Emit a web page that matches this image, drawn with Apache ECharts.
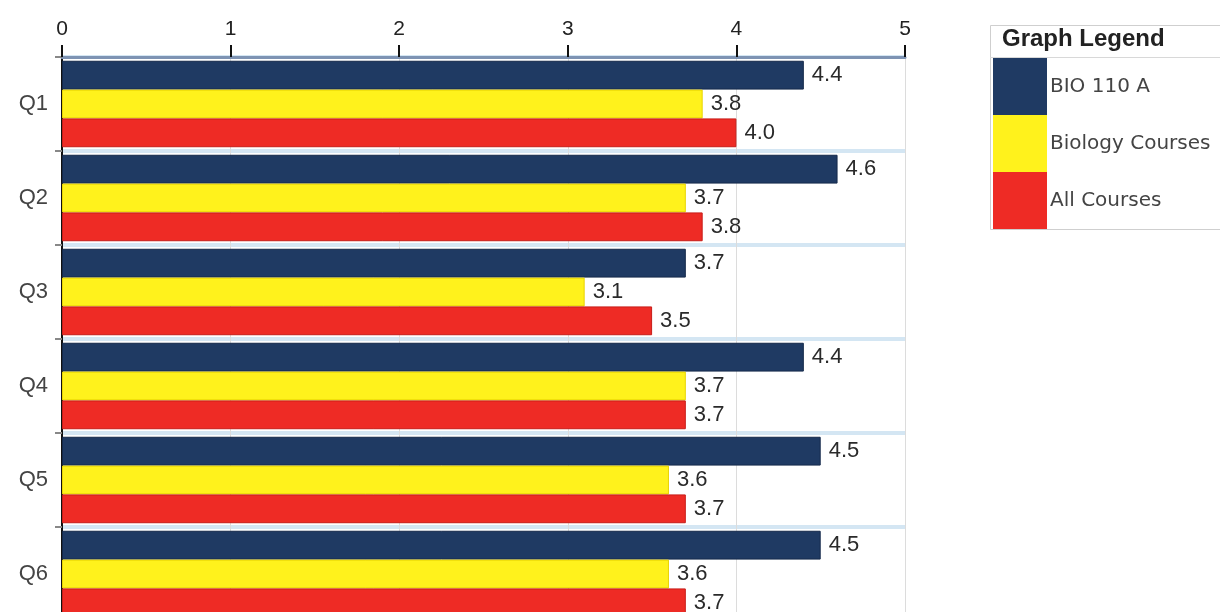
<!DOCTYPE html>
<html>
<head>
<meta charset="utf-8">
<script src="https://cdn.jsdelivr.net/npm/echarts@6/dist/echarts.min.js"></script>
<style>html,body{margin:0;padding:0;background:#fff;overflow:hidden;}#c{width:1220px;height:622px;}</style>
</head>
<body>
<div id="c"></div>
<script>
var categories = ['Q1', 'Q2', 'Q3', 'Q4', 'Q5', 'Q6'];
var seriesNames = ['BIO 110 A', 'Biology Courses', 'All Courses'];
var bio110 = [4.4, 4.6, 3.7, 4.4, 4.5, 4.5];
var biologyCourses = [3.8, 3.7, 3.1, 3.7, 3.6, 3.6];
var allCourses = [4.0, 3.8, 3.5, 3.7, 3.7, 3.7];
var xTicks = [0, 1, 2, 3, 4, 5];

var colors = ['#1f3a63', '#fff21c', '#ee2b25'];
var borders = ['#15294a', '#e8d400', '#c81c18'];
var values = [bio110, biologyCourses, allCourses];

var chart = echarts.init(document.getElementById('c'));
var series = seriesNames.map(function (n, i) {
  return {
    name: n,
    type: 'bar',
    data: values[i],
    barGap: 0,
    barCategoryGap: '8%',
    itemStyle: { color: colors[i], borderColor: borders[i], borderWidth: 1 },
    label: {
      show: true,
      position: 'right',
      distance: 8,
      formatter: function (p) { return p.value.toFixed(1); },
      fontFamily: 'Liberation Sans, Arial, sans-serif',
      fontSize: 22,
      color: '#2a2a2a'
    }
  };
});

chart.setOption({
  animation: false,
  backgroundColor: '#fff',
  grid: { left: 62, top: 57, right: 315, bottom: 1, containLabel: false },
  xAxis: {
    type: 'value',
    position: 'top',
    min: 0, max: 5, interval: 1,
    axisLine: { show: true, lineStyle: { color: '#7e93b3', width: 3 } },
    axisTick: { show: true, length: 12, lineStyle: { color: '#111', width: 2 } },
    axisLabel: {
      margin: 17,
      fontFamily: 'Liberation Sans, Arial, sans-serif',
      fontSize: 21, color: '#222',
      formatter: function (v) { return xTicks.indexOf(v) >= 0 ? String(v) : ''; }
    },
    splitLine: { show: true, lineStyle: { color: '#dcdcdc', width: 1 } }
  },
  yAxis: {
    type: 'category',
    inverse: true,
    data: categories,
    axisLine: { show: true, lineStyle: { color: '#111', width: 2 } },
    axisTick: { show: true, length: 7, lineStyle: { color: '#888', width: 2 } },
    axisLabel: {
      margin: 14,
      fontFamily: 'Liberation Sans, Arial, sans-serif',
      fontSize: 22, color: '#444'
    },
    splitLine: { show: true, lineStyle: { color: '#d4e6f3', width: 4 } }
  },
  legend: {
    orient: 'vertical',
    left: 993, top: 58,
    itemWidth: 54, itemHeight: 57, itemGap: 0,
    icon: 'rect',
    selectedMode: false,
    padding: 0,
    data: seriesNames,
    itemStyle: { borderWidth: 0 },
    textStyle: { fontFamily: 'DejaVu Sans, sans-serif', fontSize: 20, color: '#444', padding: [4, 0, 0, -2] }
  },
  graphic: [
    { type: 'rect', shape: { x: 990.5, y: 25.5, width: 240, height: 204 }, style: { fill: 'none', stroke: '#cfcfcf', lineWidth: 1 }, z: -1 },
    { type: 'line', shape: { x1: 990, y1: 57.5, x2: 1220, y2: 57.5 }, style: { stroke: '#d8d8d8', lineWidth: 1 } },
    { type: 'text', left: 1002, top: 27, style: { text: 'Graph Legend', font: 'bold 24px Liberation Sans, Arial, sans-serif', fill: '#222' } }
  ],
  series: series
});
</script>
</body>
</html>
